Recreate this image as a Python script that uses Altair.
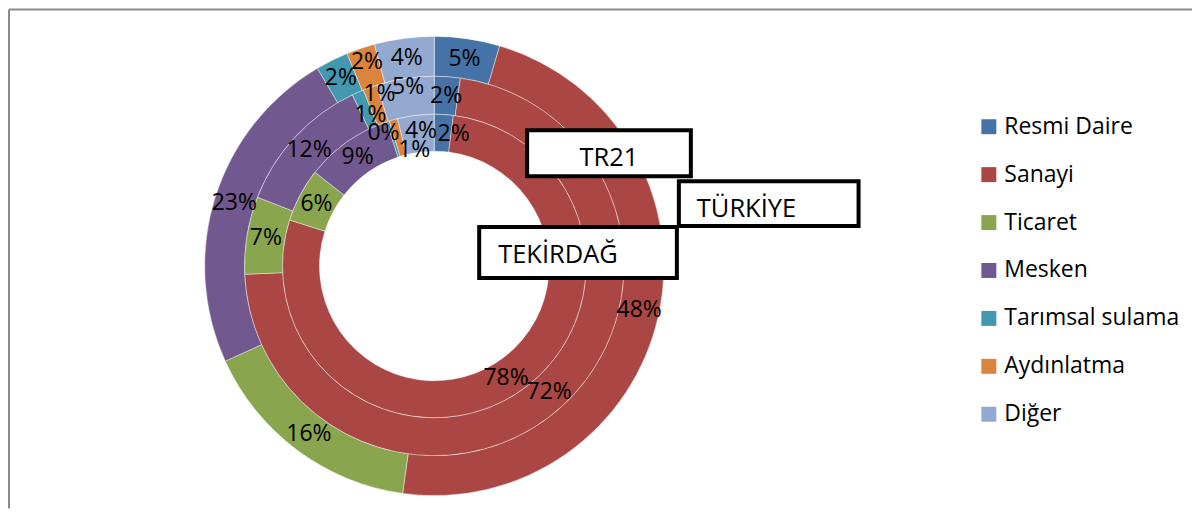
import altair as alt
import pandas as pd

categories = ["Resmi Daire", "Sanayi", "Ticaret", "Mesken", "Tarımsal sulama", "Aydınlatma", "Diğer"]
colors = ["#4572A7", "#AA4643", "#89A54E", "#71588F", "#4198AF", "#DB843D", "#93A9CF"]
rings = ["TÜRKİYE", "TR21", "TEKİRDAĞ"]
turkiye = [4.6, 47.6, 16.0, 23.3, 2.3, 2.0, 4.2]
tr21 = [2.2, 72.1, 6.6, 12.0, 1.0, 1.2, 4.9]
tekirdag = [2.0, 77.9, 5.7, 9.3, 0.3, 0.9, 3.9]
box_labels = ["TR21", "TÜRKİYE", "TEKİRDAĞ"]

rows = []
for ring, vals in zip(rings, [turkiye, tr21, tekirdag]):
    for i, (c, v) in enumerate(zip(categories, vals)):
        rows.append({"ring": ring, "cat": c, "idx": i, "value": v})
df = pd.DataFrame(rows)

FONT = "Open Sans"
CX, CY = 426, 257
radii = {"TÜRKİYE": (190, 230), "TR21": (152, 190), "TEKİRDAĞ": (115, 152)}

# label nudges (pixels) for crowded small slices, as in the reference
nudges = {
    "TÜRKİYE": {"Aydınlatma": (0, -5)},
    "TR21": {"Tarımsal sulama": (5, 5), "Aydınlatma": (3, -11), "Diğer": (0, -10)},
    "TEKİRDAĞ": {"Resmi Daire": (11, 1), "Tarımsal sulama": (-10, -6),
                 "Aydınlatma": (16, 12), "Diğer": (3, -3)},
}

color = alt.Color(
    "cat:N",
    scale=alt.Scale(domain=categories, range=colors),
    legend=alt.Legend(
        title=None, orient="none", legendX=970, legendY=106,
        symbolType="square", symbolSize=225, symbolStrokeWidth=0,
        labelFont=FONT, labelFontSize=23, labelColor="#000000",
        labelOffset=4, rowPadding=24, padding=0, labelLimit=300,
    ),
)
theta = alt.Theta("value:Q", stack="normalize")
order = alt.Order("idx:Q", sort="ascending")

base = alt.Chart(df)
layers = []

# frame
layers.append(alt.Chart(alt.Data(values=[{}])).mark_rule(color="#8a8a8a", strokeWidth=2).encode(
    x=alt.value(0), y=alt.value(0), y2=alt.value(500)))
layers.append(alt.Chart(alt.Data(values=[{}])).mark_rule(color="#8a8a8a", strokeWidth=2).encode(
    x=alt.value(0), x2=alt.value(1185), y=alt.value(0)))

for ring in rings:
    r2, r = radii[ring]
    layers.append(
        base.transform_filter(alt.datum.ring == ring)
        .mark_arc(radius=r, radius2=r2, stroke="white", strokeWidth=0.6, strokeOpacity=0.7)
        .encode(theta=theta, color=color, order=order, x=alt.value(CX), y=alt.value(CY))
    )


def text_layer(ring, cats, dx=0, dy=0):
    r2, r = radii[ring]
    cond = " || ".join("datum.cat == '%s'" % c for c in cats)
    return (
        base.transform_filter(alt.datum.ring == ring)
        .transform_calculate(label="(%s) ? format(datum.value, '.0f') + '%%' : ''" % cond)
        .mark_text(radius=(r + r2) / 2, font=FONT, fontSize=23, color="#000000",
                   align="center", baseline="middle", dx=dx, dy=dy)
        .encode(theta=theta, order=order, text="label:N", x=alt.value(CX), y=alt.value(CY))
    )


for ring in rings:
    nd = nudges[ring]
    plain = [c for c in categories if c not in nd]
    layers.append(text_layer(ring, plain))
    for c, (dx, dy) in nd.items():
        layers.append(text_layer(ring, [c], dx, dy))

boxes = [
    (box_labels[0], (519, 683, 121, 167), (601, 149, "center")),
    (box_labels[1], (671, 851, 172, 217), (689, 200, "left")),
    (box_labels[2], (471, 669, 218, 269), (490, 246, "left")),
]
for lab, (x1, x2, y1, y2), (tx, ty, al) in boxes:
    d = pd.DataFrame({"label": [lab]})
    layers.append(alt.Chart(d).mark_rect(fill="white", stroke="black", strokeWidth=4).encode(
        x=alt.value(x1), x2=alt.value(x2), y=alt.value(y1), y2=alt.value(y2)))
    layers.append(alt.Chart(d).mark_text(font=FONT, fontSize=25.5, color="#000000", align=al, baseline="middle").encode(
        text="label:N", x=alt.value(tx), y=alt.value(ty)))

chart = alt.layer(*layers).properties(
    width=1185, height=500, padding=0, background="white"
).configure_view(stroke=None)

chart.save("out.html", embed_options={"renderer": "svg", "actions": False})
